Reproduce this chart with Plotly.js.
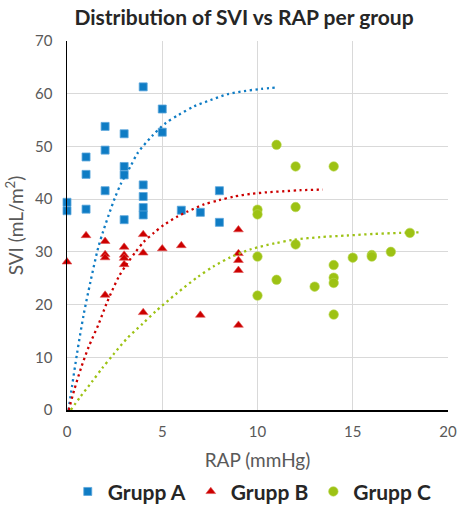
<!DOCTYPE html>
<html>
<head>
<meta charset="utf-8">
<script src="https://cdn.plot.ly/plotly-3.0.1.min.js"></script>
<style>html,body{margin:0;padding:0;background:#fff;}#chart{width:457px;height:507px;}</style>
</head>
<body>
<div id="chart"></div>
<script>
// Scatter data (RAP mmHg, SVI mL/m2)
const groupA_x = [4, 5, 5, 2, 3, 2, 1, 1, 3, 3, 2, 4, 4, 0, 0, 1, 4, 4, 3, 6, 7, 8, 8];
const groupA_y = [61.3, 57.1, 52.7, 53.8, 52.4, 49.3, 48.0, 44.7, 46.2, 44.6, 41.6, 42.7, 40.5, 39.4, 37.8, 38.1, 38.4, 37.0, 36.1, 37.9, 37.5, 41.6, 35.6];
const groupB_x = [1, 2, 4, 9, 3, 5, 6, 0, 2, 2, 3, 3, 3, 4, 9, 9, 9, 2, 4, 7, 9];
const groupB_y = [33.1, 32.0, 33.3, 34.2, 30.9, 30.6, 31.2, 28.1, 29.5, 28.9, 29.4, 28.8, 27.6, 29.8, 29.7, 28.4, 26.5, 21.8, 18.5, 18.0, 16.1];
const groupC_x = [11, 12, 14, 10, 10, 12, 18, 12, 10, 15, 16, 16, 17, 14, 11, 13, 14, 14, 10, 14];
const groupC_y = [50.3, 46.2, 46.2, 38.0, 37.1, 38.5, 33.6, 31.4, 29.1, 28.9, 29.4, 29.1, 30.0, 27.5, 24.7, 23.4, 25.1, 24.1, 21.7, 18.1];

// Trendlines
const trendA_x = [0.08, 0.26, 0.53, 0.87, 1.23, 1.63, 1.89, 2.19, 2.51, 2.84, 3.33, 3.72, 4.47, 5.17, 5.87, 6.67, 7.54, 8.42, 9.3, 10.18, 11.05];
const trendA_y = [0, 4.4, 10.8, 18.0, 24.3, 30.7, 33.8, 37.0, 40.2, 43.0, 46.2, 48.8, 52.0, 54.4, 56.0, 57.6, 58.8, 59.9, 60.5, 60.9, 61.2];
const trendB_x = [0.09, 0.38, 0.75, 1.14, 1.66, 2.1, 2.72, 3.16, 3.6, 4.03, 4.56, 5.08, 5.8, 6.3, 7.19, 7.98, 8.77, 9.65, 10.5, 11.4, 12.28, 13.43];
const trendB_y = [0, 3.8, 8.1, 12.0, 16.3, 20.4, 25.3, 27.8, 30.0, 31.9, 33.6, 35.1, 36.7, 37.6, 39.0, 39.8, 40.5, 41.0, 41.3, 41.5, 41.7, 41.8];
const trendC_x = [0.2, 0.70, 1.32, 1.84, 2.45, 3.16, 3.95, 4.65, 5.75, 6.85, 7.72, 8.6, 9.65, 10.9, 11.9, 13.3, 14.7, 16.1, 17.5, 18.6];
const trendC_y = [0, 2.5, 5.4, 7.9, 10.6, 13.6, 16.3, 18.7, 22.1, 25.2, 27.3, 29.0, 30.5, 31.6, 32.3, 32.8, 33.1, 33.4, 33.6, 33.7];

const xTicks = [0, 5, 10, 15, 20];
const yTicks = [0, 10, 20, 30, 40, 50, 60, 70];

const blue = '#0F7CC4', red = '#CC0000', green = '#9DC214';
const dotDash = '2.3px,3.5px';

const traces = [
  {x: groupA_x, y: groupA_y, mode: 'markers', type: 'scatter', name: 'Grupp A', cliponaxis: false,
   marker: {symbol: 'square', size: 8, color: blue, line: {width: 0.8, color: '#5AA6DC'}}},
  {x: groupB_x, y: groupB_y, mode: 'markers', type: 'scatter', name: 'Grupp B', cliponaxis: false,
   marker: {symbol: 'triangle-up', size: 8.5, color: red, line: {width: 0.6, color: '#E05050'}}},
  {x: groupC_x, y: groupC_y, mode: 'markers', type: 'scatter', name: 'Grupp C', cliponaxis: false,
   marker: {symbol: 'circle', size: 9.5, color: green, line: {width: 0.6, color: '#B8D650'}}},
  {x: trendA_x, y: trendA_y, mode: 'lines', type: 'scatter', showlegend: false, hoverinfo: 'skip', cliponaxis: false,
   line: {color: blue, width: 2.3, dash: dotDash, shape: 'spline', smoothing: 0.8}},
  {x: trendB_x, y: trendB_y, mode: 'lines', type: 'scatter', showlegend: false, hoverinfo: 'skip', cliponaxis: false,
   line: {color: red, width: 2.3, dash: dotDash, shape: 'spline', smoothing: 0.8}},
  {x: trendC_x, y: trendC_y, mode: 'lines', type: 'scatter', showlegend: false, hoverinfo: 'skip', cliponaxis: false,
   line: {color: green, width: 2.3, dash: dotDash, shape: 'spline', smoothing: 0.8}}
];

const layout = {
  width: 457, height: 507,
  margin: {l: 67, r: 9, t: 41, b: 97},
  paper_bgcolor: '#ffffff', plot_bgcolor: '#ffffff',
  font: {family: 'Lato, "Open Sans", sans-serif', color: '#595959'},
  title: {text: 'Distribution of SVI vs RAP per group', xref: 'container', yref: 'container',
          x: 0.534, xanchor: 'center', y: 0.966, yanchor: 'middle',
          font: {family: 'Lato, sans-serif', size: 21, color: '#262626', weight: 'bold'}},
  xaxis: {range: [0, 20], tickvals: xTicks, ticktext: xTicks.map(String), showgrid: true, gridcolor: '#D9D9D9', gridwidth: 1,
          zeroline: false, showline: true, linecolor: '#000000', linewidth: 1.5, automargin: false,
          ticks: 'outside', ticklen: 7, tickcolor: 'rgba(0,0,0,0)',
          tickfont: {size: 15, color: '#595959'},
          title: {text: 'RAP (mmHg)', standoff: 19, font: {size: 19, color: '#595959'}}},
  yaxis: {range: [0, 70], tickvals: yTicks, ticktext: yTicks.map(String), showgrid: true, gridcolor: '#D9D9D9', gridwidth: 1,
          zeroline: false, showline: true, linecolor: '#000000', linewidth: 1.5, automargin: false,
          ticks: 'outside', ticklen: 10, tickcolor: 'rgba(0,0,0,0)',
          tickfont: {size: 15, color: '#595959'},
          title: {text: 'SVI (mL/m<sup>2</sup>)', standoff: 6, font: {size: 19, color: '#595959'}}},
  showlegend: true,
  legend: {orientation: 'h', xref: 'container', yref: 'container', x: 0.552, xanchor: 'center', y: 0.03, yanchor: 'middle',
           font: {family: 'Lato, sans-serif', size: 21, color: '#262626', weight: 'bold'},
           itemwidth: 30, tracegroupgap: 0}
};

Plotly.newPlot('chart', traces, layout, {displayModeBar: false, staticPlot: true});
</script>
</body>
</html>
